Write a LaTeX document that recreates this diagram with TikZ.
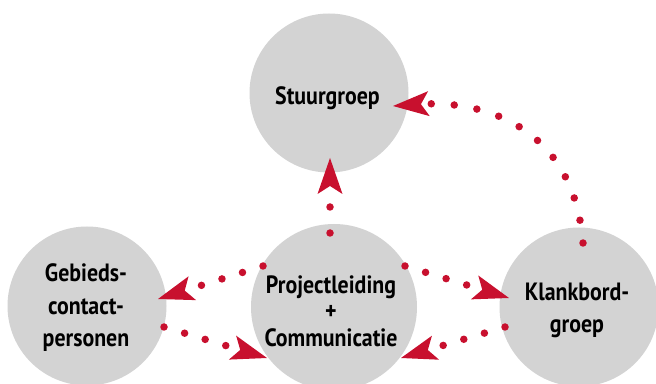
\documentclass[tikz,border=0pt]{standalone}
\usepackage{fontspec}
\setmainfont{PT Sans}[FakeStretch=0.875]
\usetikzlibrary{arrows.meta}
\definecolor{cred}{HTML}{C8102E}
\definecolor{cgray}{HTML}{D3D3D3}
\begin{document}
\begin{tikzpicture}[x=1pt,y=1pt,
  circ/.style={circle, fill=cgray, minimum size=159pt, inner sep=0pt},
  lbl/.style={anchor=base, inner sep=0pt},
  conn/.style={draw=cred, line width=7.5pt, line cap=round,
    dash pattern=on 0pt off #1,
    -{Stealth[length=36pt, width=25pt, inset=8pt, line width=0pt, fill=cred]}},
  conn/.default=21.5pt]
\useasboundingbox (0,0) rectangle (656,383);
\node[circ] (st) at (329,290) {};
\node[circ, minimum size=166pt] (pr) at (334,76) {};
\node[circ] (gb) at (87,77) {};
\node[circ] (kl) at (579,76) {};
% texts
\node[lbl] (stt) at (327.5,278) {\fontsize{25}{26.5}\selectfont\bfseries Stuurgroep};
\node[lbl] (prt) at (331,89.7) {\fontsize{25}{26.4}\selectfont\bfseries
  \begin{tabular}[t]{@{}c@{}}Projectleiding\\+\\Communicatie\end{tabular}};
\node[lbl] (gbt) at (86,101.3) {\fontsize{25}{32.5}\selectfont\bfseries
  \begin{tabular}[t]{@{}c@{}}Gebieds-\\contact-\\personen\end{tabular}};
\node[lbl] (klt) at (577,82) {\fontsize{25}{32}\selectfont\bfseries
  \begin{tabular}[t]{@{}c@{}}Klankbord-\\groep\end{tabular}};
% connector end points
\coordinate (a1) at ([shift={(-4,74)}]pr.center);
\coordinate (b1) at ([shift={(1,-65)}]st.center);
\coordinate (a2) at ([shift={(4,64)}]kl.center);
\coordinate (b2) at ([shift={(64,-13)}]st.center);
\coordinate (a3) at ([shift={(-71,41)}]pr.center);
\coordinate (b3) at ([shift={(71,7)}]gb.center);
\coordinate (a4) at ([shift={(77,-21)}]gb.center);
\coordinate (b4) at ([shift={(-67,-51)}]pr.center);
\coordinate (a5) at ([shift={(71,41)}]pr.center);
\coordinate (b5) at ([shift={(-70,9)}]kl.center);
\coordinate (a6) at ([shift={(-74,-20)}]kl.center);
\coordinate (b6) at ([shift={(67,-51)}]pr.center);
% connectors
\draw[conn=26pt] (a1) -- (b1);
\draw[conn=23pt] (a2) .. controls +(-9,115) and +(92,6) .. (b2);
\draw[conn] (a3) -- (b3);
\draw[conn] (a4) -- (b4);
\draw[conn] (a5) -- (b5);
\draw[conn] (a6) -- (b6);
\end{tikzpicture}
\end{document}
